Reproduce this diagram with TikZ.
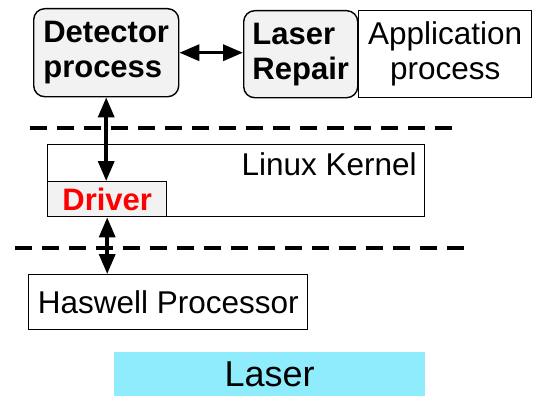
\documentclass[tikz,border=0pt]{standalone}
\usepackage{fontspec}
\setmainfont{Liberation Sans}
\usetikzlibrary{arrows.meta}
\definecolor{boxgray}{RGB}{242,242,242}
\definecolor{lasercyan}{RGB}{142,236,252}

\begin{document}
\begin{tikzpicture}[x=1pt,y=-1pt]
	\tikzstyle{every node}=[font=\fontsize{31.5}{35}\selectfont, inner sep=0pt]
	\tikzstyle{proc}=[draw, rounded corners=11pt, fill=boxgray, line width=1.4pt, align=left, anchor=north west, font=\fontsize{31}{35}\selectfont\bfseries]
	\tikzstyle{plain}=[draw, line width=1.4pt, align=center, anchor=north west]
	\tikzstyle{link}=[line width=3.5pt, {Triangle[length=20pt,width=16pt]}-{Triangle[length=20pt,width=16pt]}]
	\tikzstyle{layer}=[line width=3.5pt, dash pattern=on 17pt off 10pt]

	\useasboundingbox (0,0) rectangle (533,396);

	% user space
	\node[proc, minimum width=145pt, minimum height=88pt] (det) at (33,8) {Detector\\process};
	\node[proc, minimum width=114pt, minimum height=87pt] (rep) at (243,10) {Laser\\Repair};
	\node[plain, minimum width=173pt, minimum height=87pt] (app) at (358,10) {Application\\process};

	\draw[layer] (30,128) -- (460,128);

	% kernel
	\node[plain, minimum width=377pt, minimum height=72pt] (kern) at (47,144) {};
	\node[anchor=base east] (kerntext) at (417,175) {Linux Kernel};
	\node[plain, fill=boxgray, minimum width=119pt, minimum height=35pt, text=red, font=\fontsize{31}{35}\selectfont\bfseries] (drv) at (47,181) {Driver};

	\draw[layer] (15,248) -- (472,248);

	% hardware
	\node[plain, minimum width=279pt, minimum height=55pt] (has) at (28,274) {Haswell Processor};
	\node[fill=lasercyan, anchor=north west, minimum width=311pt, minimum height=44pt, font=\fontsize{36}{40}\selectfont] (laser) at (114,352) {Laser};

	\draw[link] (det.east) -- (det.east -| rep.west);
	\draw[link] (det.south) -- (det.south |- drv.north);
	\draw[link] (drv.south) -- (drv.south |- has.north);
\end{tikzpicture}
\end{document}
